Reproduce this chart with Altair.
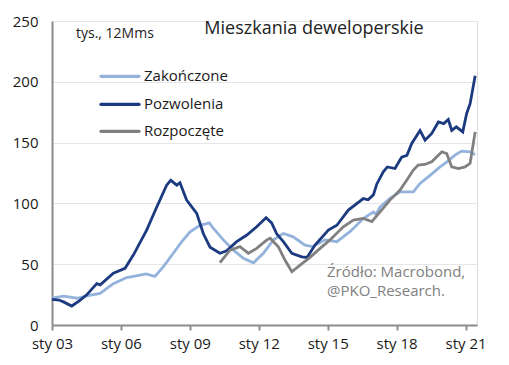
import altair as alt
import pandas as pd

# --- data (thousands, 12M sum) ---
poz_t = [2003.0, 2003.3, 2003.5, 2003.86, 2004.2, 2004.5, 2004.95, 2005.1, 2005.67, 2006.18,
         2006.54, 2007.12, 2007.56, 2007.99, 2008.17, 2008.43, 2008.57, 2008.86, 2009.3, 2009.59,
         2009.88, 2010.31, 2010.6, 2011.04, 2011.48, 2011.91, 2012.32, 2012.56, 2012.78, 2013.07,
         2013.44, 2013.87, 2014.1, 2014.45, 2015.03, 2015.4, 2015.9, 2016.55, 2016.76, 2016.99,
         2017.14, 2017.42, 2017.6, 2017.93, 2018.22, 2018.45, 2018.66, 2019.02, 2019.24, 2019.53,
         2019.82, 2020.05, 2020.25, 2020.4, 2020.6, 2020.88, 2021.05, 2021.2, 2021.42]
poz_v = [21, 20.5, 19, 15.6, 20, 24.6, 34, 33, 42.5, 46.6,
         57.5, 78, 97, 115, 119, 115, 117, 102.7, 91.8, 75,
         64, 59, 61, 68.5, 74, 80.8, 88.2, 84, 75, 68.5,
         59, 56, 55.5, 65.7, 78, 82, 94.5, 104, 103, 107,
         116, 126, 130, 128.7, 138, 139.5, 149.3, 160, 152, 157.5,
         167, 165.6, 169, 160, 163, 158.8, 174, 182, 205]

zak_t = [2003.0, 2003.49, 2004.1, 2004.51, 2005.09, 2005.67, 2006.25, 2006.83, 2007.1, 2007.48,
         2007.85, 2008.28, 2008.65, 2009.01, 2009.44, 2009.85, 2010.0, 2010.46, 2010.9, 2011.33,
         2011.77, 2012.2, 2012.64, 2013.07, 2013.5, 2014.01, 2014.35, 2014.88, 2015.4, 2015.97,
         2016.55, 2016.99, 2017.1, 2017.28, 2017.7, 2018.15, 2018.73, 2019.02, 2019.46, 2019.89,
         2020.18, 2020.54, 2020.83, 2021.2, 2021.42]
zak_v = [22, 23.8, 22, 24, 26, 34, 39, 41, 42, 40,
         48, 59, 68.5, 76.7, 82, 84, 80, 70, 61.6, 54.8,
         51.2, 59, 70, 75.3, 72.5, 65.7, 64.5, 70, 68.5, 76.7,
         87.6, 93, 91, 97, 104, 109.5, 109.5, 116.4, 123, 130,
         134, 139.7, 143, 142.4, 140]

roz_t = [2010.31, 2010.75, 2011.18, 2011.55, 2011.91, 2012.35, 2012.5, 2012.85, 2013.14, 2013.44,
         2013.8, 2014.23, 2014.67, 2015.1, 2015.68, 2016.12, 2016.55, 2016.92, 2017.28, 2017.71,
         2018.15, 2018.44, 2018.73, 2018.94, 2019.23, 2019.53, 2019.97, 2020.18, 2020.4, 2020.69,
         2020.98, 2021.2, 2021.42]
roz_v = [51.2, 61.6, 64.4, 59, 63, 70, 71.3, 64.4, 53.4, 43.8,
         49.3, 55.6, 63, 70, 80.8, 86.3, 87.6, 85, 93, 102.7,
         111, 119, 127.4, 131.5, 132, 134.2, 142.4, 141, 130, 128.7,
         130, 133, 158.8]

series = ["Zakończone", "Pozwolenia", "Rozpoczęte"]
colors = ["#93b2dc", "#1b3a80", "#808080"]
x_ticks = [2003, 2006, 2009, 2012, 2015, 2018, 2021]
y_ticks = [0, 50, 100, 150, 200, 250]

title_text = "Mieszkania deweloperskie"
unit_text = "tys., 12Mms"
source_lines = ["Źródło: Macrobond,", "@PKO_Research."]

FONT = "Open Sans"

frames = []
for name, ts, vs in [("Zakończone", zak_t, zak_v), ("Pozwolenia", poz_t, poz_v), ("Rozpoczęte", roz_t, roz_v)]:
    frames.append(pd.DataFrame({"t": ts, "v": vs, "series": name}))
df = pd.concat(frames, ignore_index=True)

x_enc = alt.X("t:Q", scale=alt.Scale(domain=[2003, 2021.5], nice=False, zero=False),
              axis=alt.Axis(values=x_ticks, labelExpr="'sty ' + substring(toString(datum.value), 2, 4)",
                            title=None, grid=False, ticks=True, tickSize=5, tickWidth=2,
                            tickColor="#8c8c8c", domainColor="#8c8c8c", domainWidth=2,
                            labelFlush=False, labelOverlap=False,
                            labelPadding=6, labelFontSize=15, labelFont=FONT, labelColor="#1a1a1a"))
y_enc = alt.Y("v:Q", scale=alt.Scale(domain=[0, 250], nice=False),
              axis=alt.Axis(values=y_ticks, title=None, grid=True, gridColor="#e6e6e6", gridWidth=1,
                            ticks=False, domainColor="#8c8c8c", domainWidth=2, labelPadding=14,
                            labelFlush=False,
                            labelFontSize=15, labelFont=FONT, labelColor="#1a1a1a"))

lines = alt.Chart(df).mark_line(strokeWidth=2.8).encode(
    x=x_enc, y=y_enc,
    color=alt.Color("series:N", scale=alt.Scale(domain=series, range=colors), legend=None),
    detail="series:N",
)

layers = [lines]

# title and unit label
layers.append(alt.Chart(pd.DataFrame({"txt": [title_text]})).mark_text(
    font=FONT, fontSize=18, color="#222222", align="center", baseline="alphabetic").encode(
    text="txt:N", x=alt.value(262), y=alt.value(13)))
layers.append(alt.Chart(pd.DataFrame({"txt": [unit_text]})).mark_text(
    font=FONT, fontSize=14, color="#222222", align="left", baseline="alphabetic").encode(
    text="txt:N", x=alt.value(24), y=alt.value(17)))

# manual legend
leg_y = [55.3, 83.3, 110.3]
for name, col, yy in zip(series, colors, leg_y):
    layers.append(alt.Chart(pd.DataFrame({"s": [name]})).mark_rule(
        color=col, strokeWidth=3.2, strokeCap="round").encode(
        x=alt.value(49), x2=alt.value(87), y=alt.value(yy)))
    layers.append(alt.Chart(pd.DataFrame({"s": [name]})).mark_text(
        font=FONT, fontSize=15, color="#1a1a1a", align="left", baseline="middle").encode(
        text="s:N", x=alt.value(92), y=alt.value(yy)))

# source note
for line, yy in zip(source_lines, [255.5, 274.5]):
    layers.append(alt.Chart(pd.DataFrame({"txt": [line]})).mark_text(
        font=FONT, fontSize=15, color="#808080", align="left", baseline="alphabetic").encode(
        text="txt:N", x=alt.value(275), y=alt.value(yy)))

chart = alt.layer(*layers).properties(
    width=425, height=304,
    autosize=alt.AutoSizeParams(type="none"),
    padding={"left": 44, "top": 13, "right": 20, "bottom": 29},
).configure_view(stroke=None).configure(background="white")

chart.save("out.html", embed_options={"renderer": "svg", "actions": False})
